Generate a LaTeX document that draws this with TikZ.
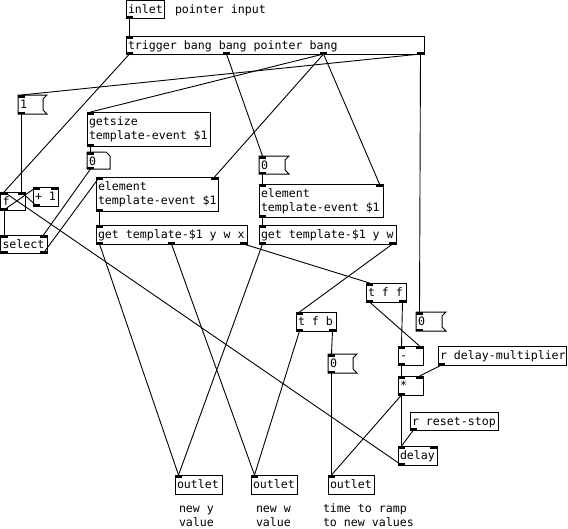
\documentclass[tikz,border=0pt]{standalone}
\usepackage{fontspec}
\newfontfamily\pdmono{DejaVu Sans Mono}
\tikzset{
  pdtext/.style={font=\pdmono\fontsize{11.6}{14}\selectfont, inner sep=0, outer sep=0, anchor=base west},
  pdline/.style={draw=black, line width=1pt},
  conn/.style={draw=black, line width=0.9pt},
}
\newcommand\pdshapeobj[4]{\draw[pdline] (#1,#2) rectangle (#3,#4);}
\newcommand\pdshapemsg[4]{\draw[pdline] (#1,#2) -- (#3,#2) -- (#3-4,#2+4) -- (#3-4,#4-4) -- (#3,#4) -- (#1,#4) -- cycle;}
\newcommand\pdshapeatom[4]{\draw[pdline] (#1,#2) -- (#3-4,#2) -- (#3,#2+4) -- (#3,#4) -- (#1,#4) -- cycle;}
\newcommand\pdio[6]{%
  \ifnum#5>0
    \pgfmathtruncatemacro\pdlast{#5-1}%
    \foreach \k in {0,...,\pdlast}{%
      \ifnum#5=1 \def\pdfrac{0}\else\pgfmathsetmacro\pdfrac{\k/(#5-1)}\fi
      \pgfmathsetmacro\pdx{#2+(#3-#2-7)*\pdfrac}%
      \if#6i
        \fill[black] (\pdx,#4) rectangle (\pdx+7,#4+2.5);
      \else
        \fill[black] (\pdx,#4-2.5) rectangle (\pdx+7,#4);
      \fi
      \coordinate (#1-#6\k) at (\pdx+3.5,#4);
    }%
  \fi}
\newcommand\pd[9]{%
  \node[inner sep=0, outer sep=0, minimum width={(#5-#3)*1pt}, minimum height={(#6-#4)*1pt}, anchor=north west] (#2) at (#3,#4) {};
  \csname pdshape#1\endcsname{#3}{#4}{#5}{#6}%
  \node[pdtext] (#2-txt) at (#3+2,#4+13) {#9};
  \pdio{#2}{#3}{#5}{#4}{#7}{i}%
  \pdio{#2}{#3}{#5}{#6}{#8}{o}%
}
\begin{document}
\begin{tikzpicture}[x=1pt,y=-1pt]
\fill[white] (0,0) rectangle (568,528);
\useasboundingbox (0,0) rectangle (568,528);

% objects
\pd{obj}{inlet}{126}{0.5}{164}{18}{0}{1}{inlet}
\node[pdtext] (c-ptr) at (175,13) {pointer input};
\pd{obj}{trig}{126}{36}{424}{54}{1}{4}{trigger bang bang pointer bang}
\pd{msg}{msgone}{18}{95}{47}{114}{1}{1}{1}
\pd{obj}{getsize}{87}{112}{210}{146}{1}{1}{getsize}
\node[pdtext] (getsize-txt2) at (89,139) {template-event \$1};
\pd{atom}{atom}{87}{152}{110}{169}{1}{1}{0}
\pd{msg}{msga}{259}{156}{289}{174}{1}{1}{0}
\pd{obj}{elema}{96}{177}{218}{211}{2}{1}{element}
\node[pdtext] (elema-txt2) at (98,204) {template-event \$1};
\pd{obj}{elemb}{259}{184}{383}{217}{2}{1}{element}
\node[pdtext] (elemb-txt2) at (261,211) {template-event \$1};
\pd{obj}{geta}{96}{225}{247}{244}{1}{3}{get template-\$1 y w x}
\pd{obj}{getb}{259}{225}{396}{244}{1}{2}{get template-\$1 y w}
\pd{obj}{f}{0.5}{192}{25}{210}{2}{1}{f}
\pd{obj}{plus}{33}{187}{58}{206}{2}{1}{+ 1}
\pd{obj}{select}{0.5}{235}{47}{253}{2}{2}{select}
\pd{obj}{tff}{366}{283}{406}{302}{1}{2}{t f f}
\pd{obj}{tfb}{296}{312}{336}{331}{1}{2}{t f b}
\pd{msg}{msgb}{416}{312}{446}{331}{1}{1}{0}
\pd{obj}{minus}{398}{346}{423}{365}{2}{1}{-}
\pd{obj}{rdm}{438}{346}{566}{365}{0}{1}{r delay-multiplier}
\pd{obj}{times}{398}{376}{423}{395}{2}{1}{*}
\pd{msg}{msgc}{328}{354}{357}{373}{1}{1}{0}
\pd{obj}{rrs}{410}{412}{498}{430}{0}{1}{r reset-stop}
\pd{obj}{delay}{398}{446}{437}{465}{2}{1}{delay}
\pd{obj}{outa}{175}{475}{222}{494}{1}{0}{outlet}
\pd{obj}{outb}{251}{475}{297}{494}{1}{0}{outlet}
\pd{obj}{outc}{328}{475}{374}{494}{1}{0}{outlet}

% comments
\node[pdtext] (c-y1) at (179,512.5) {new y};
\node[pdtext] (c-y2) at (179,526.5) {value};
\node[pdtext] (c-w1) at (256,512.5) {new w};
\node[pdtext] (c-w2) at (256,526.5) {value};
\node[pdtext] (c-t1) at (323,512.5) {time to ramp};
\node[pdtext] (c-t2) at (323,526.5) {to new values};

% connections
\draw[conn] (inlet-o0) -- (trig-i0);
\draw[conn] (trig-o0) -- (f-i0);
\draw[conn] (trig-o1) -- (msga-i0);
\draw[conn] (trig-o2) -- (getsize-i0);
\draw[conn] (trig-o2) -- (elema-i1);
\draw[conn] (trig-o2) -- (elemb-i1);
\draw[conn] (trig-o3) -- (msgone-i0);
\draw[conn] (trig-o3) -- (msgb-i0);
\draw[conn] (msgone-o0) -- (f-i1);
\draw[conn] (f-o0) -- (plus-i0);
\draw[conn] (plus-o0) -- (f-i1);
\draw[conn] (f-o0) -- (select-i0);
\draw[conn] (getsize-o0) -- (atom-i0);
\draw[conn] (atom-o0) -- (select-i1);
\draw[conn] (select-o1) -- (elema-i0);
\draw[conn] (elema-o0) -- (geta-i0);
\draw[conn] (msga-o0) -- (elemb-i0);
\draw[conn] (elemb-o0) -- (getb-i0);
\draw[conn] (geta-o0) -- (outa-i0);
\draw[conn] (geta-o1) -- (outb-i0);
\draw[conn] (geta-o2) -- (tff-i0);
\draw[conn] (getb-o0) -- (outa-i0);
\draw[conn] (getb-o1) -- (tfb-i0);
\draw[conn] (tfb-o0) -- (outb-i0);
\draw[conn] (tfb-o1) -- (msgc-i0);
\draw[conn] (msgc-o0) -- (outc-i0);
\draw[conn] (tff-o0) -- (minus-i1);
\draw[conn] (tff-o1) -- (minus-i0);
\draw[conn] (minus-o0) -- (times-i0);
\draw[conn] (rdm-o0) -- (times-i1);
\draw[conn] (times-o0) -- (delay-i0);
\draw[conn] (times-o0) -- (outc-i0);
\draw[conn] (rrs-o0) -- (delay-i0);
\draw[conn] (delay-o0) -- (f-i0);
\end{tikzpicture}
\end{document}
